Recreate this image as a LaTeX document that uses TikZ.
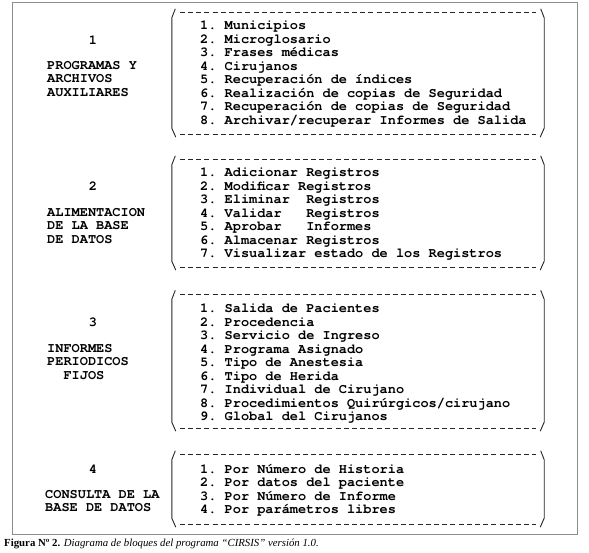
\documentclass[tikz,border=0pt]{standalone}
\usepackage{fontspec}
\setmainfont{Liberation Serif}
\setmonofont{TeX Gyre Cursor}
\usetikzlibrary{calc,positioning}
\newcommand{\listfont}{\ttfamily\bfseries\fontsize{13.6}{13.5}\selectfont}

\begin{document}
\begin{tikzpicture}[x=1pt,y=-1pt,
  txt/.style={font=\listfont,align=left,inner sep=0pt,anchor=north west},
  num/.style={font=\listfont,inner sep=0pt},
  blk/.style={inner sep=0pt,minimum width=372pt},
  side/.style={line width=0.9pt,black!85},
  dashes/.style={line width=1.1pt,black!85,dash pattern=on 5pt off 3.2pt},
  outer/.style={draw=black!45,line width=1pt}]
\useasboundingbox (0,0) rectangle (589,553);
\draw[outer] (12,3) rectangle (577,534);

% the four blocks
\node (b1) at (358,73.5) [blk,minimum height=121pt] {};
\node (b2) at (358,213.5) [blk,minimum height=107pt] {};
\node (b3) at (358,361.25) [blk,minimum height=133.5pt] {};
\node (b4) at (358,489.5) [blk,minimum height=69pt] {};

\draw[side] ($(b1.south west)+(4,3)$) -- ($(b1.south west)+(0,-6)$) -- ($(b1.north west)+(0,5)$) -- ($(b1.north west)+(3.5,-4)$);
\draw[side] ($(b1.north east)+(-3.5,-4)$) -- ($(b1.north east)+(0,5)$) -- ($(b1.south east)+(0,-6)$) -- ($(b1.south east)+(-4,3)$);
\draw[dashes] ($(b1.north west)+(8,0)$) -- ($(b1.north east)+(-8,0)$) ($(b1.south west)+(8,0)$) -- ($(b1.south east)+(-8,0)$);
\draw[side] ($(b2.south west)+(4,3)$) -- ($(b2.south west)+(0,-6)$) -- ($(b2.north west)+(0,5)$) -- ($(b2.north west)+(3.5,-4)$);
\draw[side] ($(b2.north east)+(-3.5,-4)$) -- ($(b2.north east)+(0,5)$) -- ($(b2.south east)+(0,-6)$) -- ($(b2.south east)+(-4,3)$);
\draw[dashes] ($(b2.north west)+(8,0)$) -- ($(b2.north east)+(-8,0)$) ($(b2.south west)+(8,0)$) -- ($(b2.south east)+(-8,0)$);
\draw[side] ($(b3.south west)+(4,3)$) -- ($(b3.south west)+(0,-6)$) -- ($(b3.north west)+(0,5)$) -- ($(b3.north west)+(3.5,-4)$);
\draw[side] ($(b3.north east)+(-3.5,-4)$) -- ($(b3.north east)+(0,5)$) -- ($(b3.south east)+(0,-6)$) -- ($(b3.south east)+(-4,3)$);
\draw[dashes] ($(b3.north west)+(8,0)$) -- ($(b3.north east)+(-8,0)$) ($(b3.south west)+(8,0)$) -- ($(b3.south east)+(-8,0)$);
\draw[side] ($(b4.south west)+(4,3)$) -- ($(b4.south west)+(0,-6)$) -- ($(b4.north west)+(0,5)$) -- ($(b4.north west)+(3.5,-4)$);
\draw[side] ($(b4.north east)+(-3.5,-4)$) -- ($(b4.north east)+(0,5)$) -- ($(b4.south east)+(0,-6)$) -- ($(b4.south east)+(-4,3)$);
\draw[dashes] ($(b4.north west)+(8,0)$) -- ($(b4.north east)+(-8,0)$) ($(b4.south west)+(8,0)$) -- ($(b4.south east)+(-8,0)$);

% numbers and titles
\node (n1) at (93,40) [num] {1};
\node (t1) at (47,61) [txt] {PROGRAMAS Y\\ARCHIVOS\\AUXILIARES};
\node (n2) at (93,186.5) [num] {2};
\node (t2) at (47,208) [txt] {ALIMENTACION\\DE LA BASE\\DE DATOS};
\node (n3) at (93,322) [num] {3};
\node (t3) at (47,344) [txt] {INFORMES\\PERIODICOS\\~~FIJOS};
\node (n4) at (93,469) [num] {4};
\node (t4) at (45,490) [txt] {CONSULTA DE LA\\BASE DE DATOS};

% item lists
\node (l1) at (200,21) [txt] {1. Municipios\\2. Microglosario\\3. Frases médicas\\4. Cirujanos\\5. Recuperación de índices\\6. Realización de copias de Seguridad\\7. Recuperación de copias de Seguridad\\8. Archivar/recuperar Informes de Salida};
\node (l2) at (200,168) [txt] {1. Adicionar Registros\\2. Modificar Registros\\3. Eliminar~~Registros\\4. Validar~~~Registros\\5. Aprobar~~~Informes\\6. Almacenar Registros\\7. Visualizar estado de los Registros};
\node (l3) at (200,304) [txt] {1. Salida de Pacientes\\2. Procedencia\\3. Servicio de Ingreso\\4. Programa Asignado\\5. Tipo de Anestesia\\6. Tipo de Herida\\7. Individual de Cirujano\\8. Procedimientos Quirúrgicos/cirujano\\9. Global del Cirujanos};
\node (l4) at (200,464) [txt] {1. Por Número de Historia\\2. Por datos del paciente\\3. Por Número de Informe\\4. Por parámetros libres};

% caption
\node (cap) at (4,544) [anchor=west,inner sep=0pt,font=\fontsize{10.8}{12}\selectfont] {\textbf{Figura Nº 2.} \textit{Diagrama de bloques del programa ``CIRSIS'' versión 1.0.}};
\end{tikzpicture}
\end{document}
